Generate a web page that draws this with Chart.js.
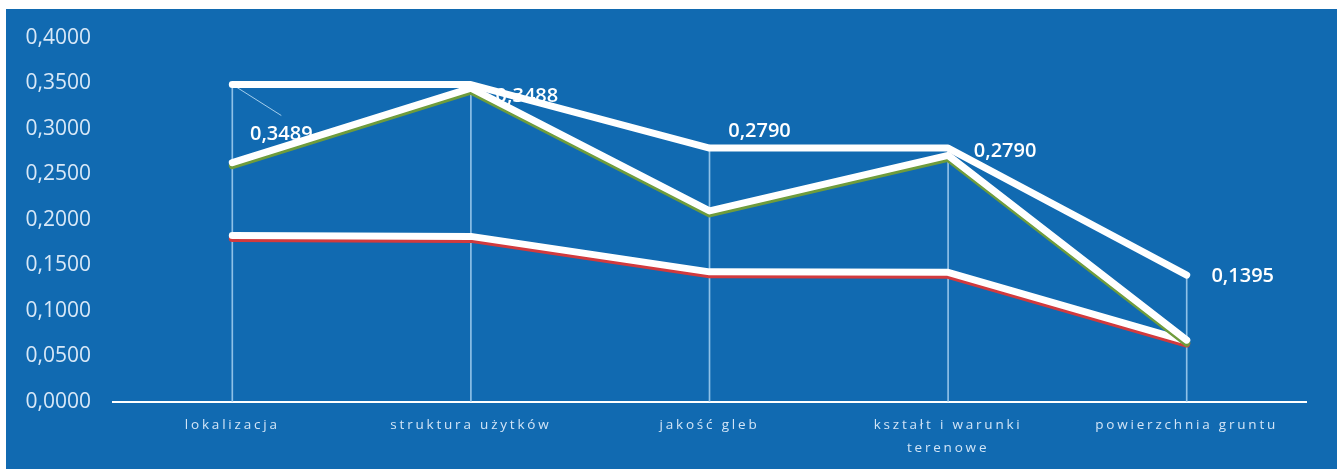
<!DOCTYPE html>
<html>
<head>
<meta charset="utf-8">
<script src="https://cdn.jsdelivr.net/npm/chart.js@4.4.1/dist/chart.umd.min.js"></script>
<style>
  html, body { margin: 0; padding: 0; background: #ffffff; }
  #wrap { width: 1344px; height: 469px; }
</style>
</head>
<body>
<div id="wrap"><canvas id="myChart"></canvas></div>
<script>
var categories = ['lokalizacja', 'struktura użytków', 'jakość gleb', ['kształt i warunki', 'terenowe'], 'powierzchnia gruntu'];
var maxValues = [0.3489, 0.3488, 0.2790, 0.2790, 0.1395];
var greenValues = [0.2630, 0.3450, 0.2100, 0.2710, 0.0680];
var redValues = [0.1830, 0.1820, 0.1430, 0.1425, 0.0670];
var yTicks = [0, 0.05, 0.1, 0.15, 0.2, 0.25, 0.3, 0.35, 0.4];

function fmt(v) {
  return v.toFixed(4).replace('.', ',');
}

// blue panel behind the chart
var panel = {
  id: 'panel',
  beforeDraw: function(chart) {
    var c = chart.ctx;
    c.save();
    c.fillStyle = '#116ab1';
    c.fillRect(6, 9, 1331, 460);
    c.restore();
  }
};

// coloured edge under the white lines
var edges = {
  id: 'edges',
  beforeDatasetDraw: function(chart, args) {
    var col = chart.data.datasets[args.index].edgeColor;
    chart.ctx.save();
    if (col) {
      chart.ctx.shadowColor = col;
      chart.ctx.shadowOffsetY = 3;
      chart.ctx.shadowBlur = 0;
    }
  },
  afterDatasetDraw: function(chart) {
    chart.ctx.restore();
  }
};

// value labels on the top series, drawn under the lines
var labelOffsets = [[49, 50], [56, 12], [50, -17], [57, 3], [56, 1]];
var valueLabels = {
  id: 'valueLabels',
  beforeDatasetsDraw: function(chart) {
    var c = chart.ctx;
    var pts = chart.getDatasetMeta(0).data;
    c.save();
    // leader line for the first label
    c.strokeStyle = 'rgba(200,230,250,0.8)';
    c.lineWidth = 1;
    c.beginPath();
    c.moveTo(pts[0].x, pts[0].y);
    c.lineTo(pts[0].x + 49, pts[0].y + 31);
    c.stroke();
    c.fillStyle = '#ffffff';
    c.font = '600 20px "Open Sans"';
    c.textAlign = 'center';
    c.textBaseline = 'middle';
    for (var i = 0; i < pts.length; i++) {
      c.fillText(fmt(maxValues[i]), pts[i].x + labelOffsets[i][0], pts[i].y + labelOffsets[i][1]);
    }
    c.restore();
  },
  afterDatasetsDraw: function(chart) {
    chart.ctx.letterSpacing = '2.8px';
  },
  afterDraw: function(chart) {
    chart.ctx.letterSpacing = '0px';
  }
};

var ctx = document.getElementById('myChart');
ctx.width = 1344;
ctx.height = 469;
var myChart = new Chart(ctx, {
  type: 'line',
  data: {
    labels: categories,
    datasets: [
      {
        label: 'max',
        data: maxValues,
        borderColor: '#ffffff',
        borderWidth: 7,
        pointRadius: 0,
        borderCapStyle: 'round',
        borderJoinStyle: 'round',
        order: 0
      },
      {
        label: 'zielona',
        data: greenValues,
        borderColor: '#ffffff',
        edgeColor: '#6f9c3c',
        borderWidth: 7,
        pointRadius: 0,
        borderCapStyle: 'round',
        borderJoinStyle: 'round',
        order: 1
      },
      {
        label: 'czerwona',
        data: redValues,
        borderColor: '#ffffff',
        edgeColor: '#d23a3e',
        borderWidth: 7,
        pointRadius: 0,
        borderCapStyle: 'round',
        borderJoinStyle: 'round',
        order: 2
      },
      {
        type: 'bar',
        label: 'drop',
        data: maxValues,
        backgroundColor: 'rgba(175,215,245,0.8)',
        barThickness: 1,
        order: 3
      }
    ]
  },
  options: {
    responsive: false,
    animation: false,
    layout: {
      padding: { top: 38, right: 38, bottom: 0, left: 0 }
    },
    plugins: {
      legend: { display: false },
      tooltip: { enabled: false }
    },
    scales: {
      x: {
        offset: true,
        grid: { display: false, drawTicks: false },
        border: { display: true, color: '#ffffff', width: 2 },
        ticks: {
          z: 1,
          color: '#d2e5f7',
          padding: 12,
          maxRotation: 0,
          autoSkip: false,
          font: { family: '"Open Sans"', size: 13.5, lineHeight: 1.7 }
        },
        afterFit: function(scale) { scale.height = 67; }
      },
      y: {
        min: 0,
        max: 0.4,
        afterBuildTicks: function(scale) {
          scale.ticks = yTicks.map(function(v) { return { value: v }; });
        },
        grid: { display: false, drawTicks: false },
        border: { display: false },
        ticks: {
          color: '#d8e8f7',
          padding: 22,
          font: { family: '"Open Sans"', size: 21 },
          callback: function(v) { return fmt(v); }
        },
        afterFit: function(scale) { scale.width = 113; }
      }
    }
  },
  plugins: [panel, edges, valueLabels]
});
</script>
</body>
</html>
